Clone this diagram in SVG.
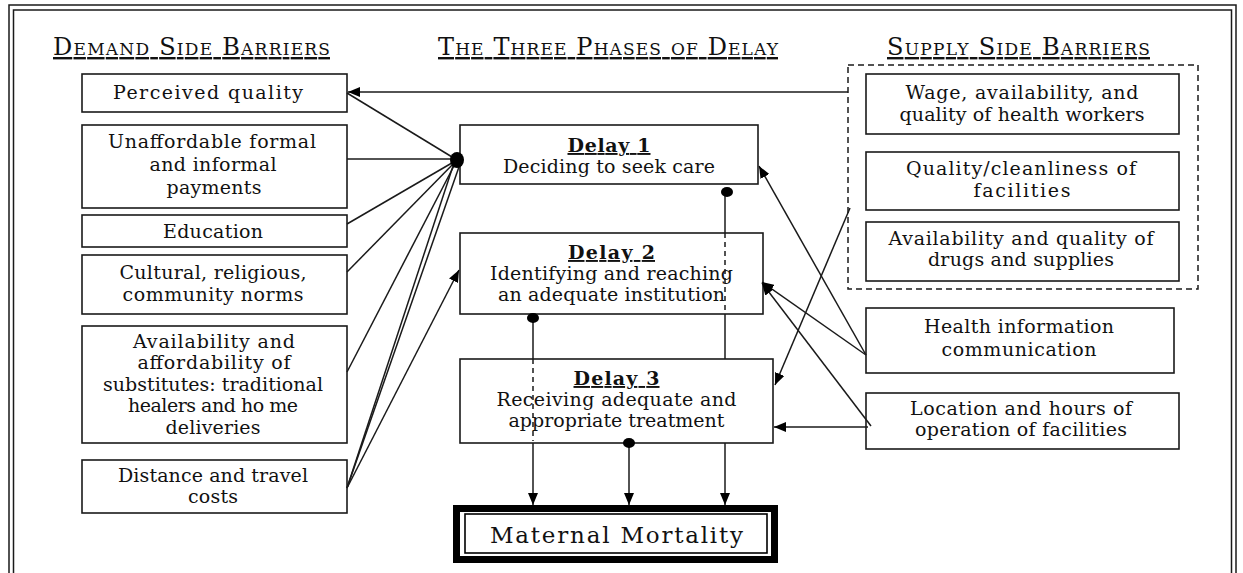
<svg xmlns="http://www.w3.org/2000/svg" width="1243" height="573" viewBox="0 0 1243 573">
<style>
  .box{fill:#fff;stroke:#1a1a1a;stroke-width:1.6}
  .t{font-family:"DejaVu Serif","Liberation Serif",serif;font-size:19px;fill:#111;text-anchor:middle}
  .h{font-family:"DejaVu Serif","Liberation Serif",serif;font-size:24px;fill:#111;font-variant:small-caps;text-decoration:underline}
  .d{font-family:"DejaVu Serif","Liberation Serif",serif;font-size:19px;font-weight:bold;fill:#111;text-anchor:middle;text-decoration:underline}
  .mm{font-family:"DejaVu Serif","Liberation Serif",serif;font-size:23px;fill:#111;text-anchor:middle}
  .ln{fill:none;stroke:#1a1a1a;stroke-width:1.5}
  .ar{marker-end:url(#arr)}
  .dash{stroke-dasharray:5,4}
  .dot{fill:#000}
</style>
<defs>
  <marker id="arr" markerUnits="userSpaceOnUse" markerWidth="12" markerHeight="10" refX="12" refY="5" orient="auto">
    <path d="M0,0 L12,5 L0,10 z" fill="#000"/>
  </marker>
</defs>
<rect width="1243" height="573" fill="#fff"/>
<g id="frame">
  <rect x="9" y="5" width="1227" height="600" fill="none" stroke="#1a1a1a" stroke-width="1.5"/>
  <rect x="13.5" y="10" width="1218" height="600" fill="none" stroke="#1a1a1a" stroke-width="1.5"/>
</g>
<g id="headers">
  <text class="h" x="53" y="55" textLength="277">Demand Side Barriers</text>
  <text class="h" x="438" y="55" textLength="340">The Three Phases of Delay</text>
  <text class="h" x="887" y="55" textLength="263">Supply Side Barriers</text>
</g>
<g id="supply-group">
  <rect x="848" y="65" width="350" height="224" fill="none" stroke="#1a1a1a" stroke-width="1.5" stroke-dasharray="6,4"/>
</g>
<g id="perceived-quality">
  <rect class="box" x="82" y="74" width="265" height="38"/>
  <text class="t" x="208" y="99" textLength="190">Perceived quality</text>
</g>
<g id="unaffordable-payments">
  <rect class="box" x="82" y="125" width="265" height="83"/>
  <text class="t" x="212" y="148" textLength="208">Unaffordable formal</text>
  <text class="t" x="213" y="171" textLength="127">and informal</text>
  <text class="t" x="214" y="194" textLength="95">payments</text>
</g>
<g id="education">
  <rect class="box" x="82" y="215" width="265" height="32"/>
  <text class="t" x="213" y="238" textLength="100">Education</text>
</g>
<g id="cultural-norms">
  <rect class="box" x="82" y="255" width="265" height="59"/>
  <text class="t" x="213" y="279" textLength="187">Cultural, religious,</text>
  <text class="t" x="213" y="301" textLength="181">community norms</text>
</g>
<g id="substitutes">
  <rect class="box" x="82" y="326" width="265" height="117"/>
  <text class="t" x="214" y="348" textLength="162">Availability and</text>
  <text class="t" x="214" y="369" textLength="153">affordability of</text>
  <text class="t" x="213" y="391" textLength="220">substitutes: traditional</text>
  <text class="t" x="213" y="412" textLength="170">healers and ho me</text>
  <text class="t" x="213" y="434" textLength="95">deliveries</text>
</g>
<g id="distance-costs">
  <rect class="box" x="82" y="460" width="265" height="53"/>
  <text class="t" x="213" y="482" textLength="190">Distance and travel</text>
  <text class="t" x="213" y="503" textLength="50">costs</text>
</g>
<g id="delay1">
  <rect class="box" x="460" y="125" width="298" height="59"/>
  <text class="d" x="609" y="152" textLength="83">Delay 1</text>
  <text class="t" x="609" y="173" textLength="212">Deciding to seek care</text>
</g>
<g id="delay2">
  <rect class="box" x="460" y="233" width="303" height="81"/>
  <text class="d" x="611.5" y="259" textLength="87">Delay 2</text>
  <text class="t" x="611.5" y="280" textLength="243">Identifying and reaching</text>
  <text class="t" x="611.5" y="301" textLength="227">an adequate institution</text>
</g>
<g id="delay3">
  <rect class="box" x="460" y="359" width="313" height="84"/>
  <text class="d" x="616.5" y="385" textLength="86">Delay 3</text>
  <text class="t" x="616.5" y="406" textLength="240">Receiving adequate and</text>
  <text class="t" x="616.5" y="427" textLength="216">appropriate treatment</text>
</g>
<g id="maternal-mortality">
  <rect x="456.5" y="508.5" width="318" height="51" fill="#fff" stroke="#000" stroke-width="7"/>
  <rect x="465" y="514" width="302" height="39" fill="none" stroke="#000" stroke-width="1.6"/>
  <text class="mm" x="616.5" y="543" textLength="253">Maternal Mortality</text>
</g>
<g id="health-workers">
  <rect class="box" x="866" y="74" width="313" height="60"/>
  <text class="t" x="1022" y="99" textLength="233">Wage, availability, and</text>
  <text class="t" x="1022" y="121" textLength="245">quality of health workers</text>
</g>
<g id="cleanliness">
  <rect class="box" x="866" y="152" width="313" height="58"/>
  <text class="t" x="1021" y="175" textLength="230">Quality/cleanliness of</text>
  <text class="t" x="1022" y="197" textLength="97">facilities</text>
</g>
<g id="drugs-supplies">
  <rect class="box" x="866" y="222" width="313" height="59"/>
  <text class="t" x="1021" y="245" textLength="265">Availability and quality of</text>
  <text class="t" x="1021" y="266" textLength="186">drugs and supplies</text>
</g>
<g id="health-information">
  <rect class="box" x="866" y="308" width="308" height="65"/>
  <text class="t" x="1019" y="333" textLength="190">Health information</text>
  <text class="t" x="1019" y="356" textLength="155">communication</text>
</g>
<g id="location-hours">
  <rect class="box" x="866" y="393" width="313" height="56"/>
  <text class="t" x="1021" y="415" textLength="222">Location and hours of</text>
  <text class="t" x="1021" y="436" textLength="212">operation of facilities</text>
</g>
<g id="connectors">
  <line class="ln ar" x1="848" y1="92" x2="348" y2="92"/>
  <line class="ln" x1="347" y1="93" x2="457" y2="160"/>
  <line class="ln" x1="347" y1="159" x2="457" y2="159"/>
  <line class="ln" x1="347" y1="224" x2="457" y2="160"/>
  <line class="ln" x1="347" y1="272" x2="457" y2="160"/>
  <line class="ln" x1="347" y1="372" x2="457" y2="160"/>
  <line class="ln" x1="347" y1="488" x2="455" y2="160"/>
  <line class="ln" x1="347" y1="488" x2="460" y2="164"/>
  <line class="ln ar" x1="347" y1="488" x2="459" y2="270"/>
  <ellipse class="dot" cx="457" cy="160" rx="7" ry="8"/>
  <line class="ln ar" x1="866" y1="355" x2="759" y2="166"/>
  <line class="ln ar" x1="866" y1="355" x2="762" y2="282"/>
  <line class="ln ar" x1="871" y1="426" x2="762" y2="283"/>
  <line class="ln ar" x1="868" y1="427" x2="774" y2="427"/>
  <line class="ln ar" x1="850" y1="208" x2="775" y2="385"/>
  <line class="ln" x1="725" y1="192" x2="725" y2="233"/>
  <line class="ln dash" x1="725" y1="233" x2="725" y2="314"/>
  <line class="ln" x1="725" y1="314" x2="725" y2="359"/>
  <line class="ln ar" x1="725" y1="443" x2="725" y2="505"/>
  <ellipse class="dot" cx="727" cy="192" rx="6" ry="5"/>
  <line class="ln" x1="533" y1="318" x2="533" y2="359"/>
  <line class="ln dash" x1="533" y1="359" x2="533" y2="441"/>
  <line class="ln ar" x1="533" y1="443" x2="533" y2="505"/>
  <ellipse class="dot" cx="533" cy="318" rx="6" ry="5"/>
  <line class="ln ar" x1="629" y1="443" x2="629" y2="505"/>
  <ellipse class="dot" cx="629" cy="443" rx="6" ry="5"/>
</g>
</svg>
